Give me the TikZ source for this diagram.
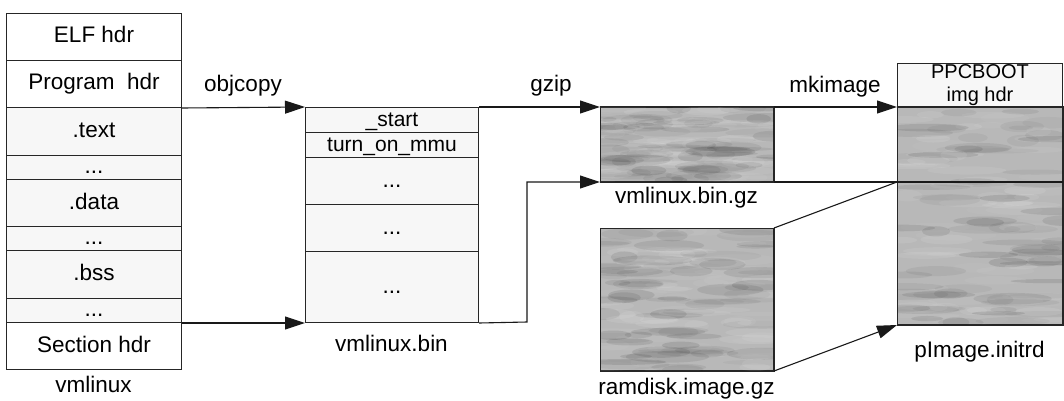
\documentclass[tikz,border=0pt]{standalone}
\usepackage{fontspec}
\setmainfont{Liberation Sans}
\usetikzlibrary{arrows.meta}

% soft streaky grey texture inside a rectangle: x0, y0, width, height
\newcommand\mottlebox[4]{%
  \begin{scope}
    \clip (#1,#2) rectangle ++(#3,#4);
    \foreach \k in {1,...,140}{
      \pgfmathsetmacro\px{#1+rnd*#3}
      \pgfmathsetmacro\py{#2+rnd*#4}
      \pgfmathsetmacro\rx{12+rnd*30}
      \pgfmathsetmacro\ry{2+rnd*4}
      \pgfmathsetmacro\op{0.03+rnd*0.07}
      \ifodd\k \def\mtone{white}\else\def\mtone{black}\fi
      \fill[\mtone,opacity=\op] (\px,\py) ellipse ({\rx} and {\ry});
    }
  \end{scope}}

\begin{document}
\begin{tikzpicture}[x=1pt,y=-1pt,
  every node/.style={font=\fontsize{22.5}{26}\selectfont},
  cell/.style 2 args={draw=black!85, line width=1pt, anchor=north west,
    inner sep=0pt, minimum width=#1pt, minimum height=#2pt,
    text height=16pt, text depth=4pt},
  speck/.style={fill=black!3},
  packed/.style={fill=black!28},
  small/.style={font=\fontsize{21}{24}\selectfont},
  flow/.style={line width=1.1pt, draw=black!90,
    -{Triangle[length=20pt,width=13pt]}},
  wire/.style={line width=1.1pt, draw=black!90},
  edge/.style={draw=black!85, line width=1pt},
  lbl/.style={inner sep=0pt}
]
\useasboundingbox (0,0) rectangle (1064,401);
\pgfmathsetseed{11}

% ELF image sections
\node[cell={175}{47}] (elf) at (6,13) {ELF hdr};
\node[cell={175}{47}] (prog) at (6,60) {Program\ \ hdr};
\node[cell={175}{48}, speck] (text) at (6,107) {.text};
\node[cell={175}{24}, speck] (dotsA) at (6,155) {...};
\node[cell={175}{47}, speck] (data) at (6,179) {.data};
\node[cell={175}{24}, speck] (dotsB) at (6,226) {...};
\node[cell={175}{48}, speck] (bss) at (6,250) {.bss};
\node[cell={175}{24}, speck] (dotsC) at (6,298) {...};
\node[cell={175}{47}] (sect) at (6,322) {Section hdr};
\node[lbl] (vml) at (93.5,384) {vmlinux};

% raw binary
\node[cell={173}{25}, speck, small] (start) at (305,107) {\_start};
\node[cell={173}{25}, speck, small] (mmu) at (305,132) {turn\_on\_mmu};
\node[cell={173}{47}, speck] (binA) at (305,157) {...};
\node[cell={173}{47}, speck] (binB) at (305,204) {...};
\node[cell={173}{71}, speck] (binC) at (305,251) {...};
\node[lbl] (binlbl) at (391.5,343) {vmlinux.bin};

% compressed kernel and ramdisk
\node[cell={173}{74}, packed] (gz) at (600,107) {};
\mottlebox{600}{107}{173}{74}
\draw[edge] (gz.north west) rectangle (gz.south east);
\node[lbl] (gzlbl) at (686.5,198) {vmlinux.bin.gz};
\node[cell={173}{142}, packed] (ram) at (600,228) {};
\mottlebox{600}{228}{173}{142}
\draw[edge] (ram.north west) rectangle (ram.south east);
\node[lbl] (ramlbl) at (686.5,389) {ramdisk.image.gz};

% boot image
\node[cell={165}{44}, speck, align=center, text height=, text depth=,
  font=\fontsize{20}{23}\selectfont] (hdr) at (897,63) {PPCBOOT\\img hdr};
\node[cell={165}{217}, packed] (body) at (897,107) {};
\mottlebox{897}{107}{165}{217}
\draw[edge] (body.north west) rectangle (body.south east);
\node[lbl] (imglbl) at (979.5,352) {pImage.initrd};

% objcopy
\draw[flow] (prog.south east) -- (start.north west);
\draw[flow] (dotsC.south east) -- (binC.south west);
\node[lbl] (objcopy) at (243,86) {objcopy};

% gzip
\coordinate (bend) at (527,322);
\draw[flow] (start.north east) -- (gz.north west);
\draw[flow] (binC.south east) -- (bend) |- (gz.south west);
\node[lbl] (gzip) at (551,86) {gzip};

% mkimage
\coordinate (split) at (body.west |- gz.south east);
\draw[flow] (gz.north east) -- (body.north west);
\draw[wire] (gz.south east) -- (split) -- (body.east |- split);
\draw[wire] (ram.north east) -- (split);
\draw[flow] (ram.south east) -- (body.south west);
\node[lbl] (mkimage) at (835,87) {mkimage};
\end{tikzpicture}
\end{document}
